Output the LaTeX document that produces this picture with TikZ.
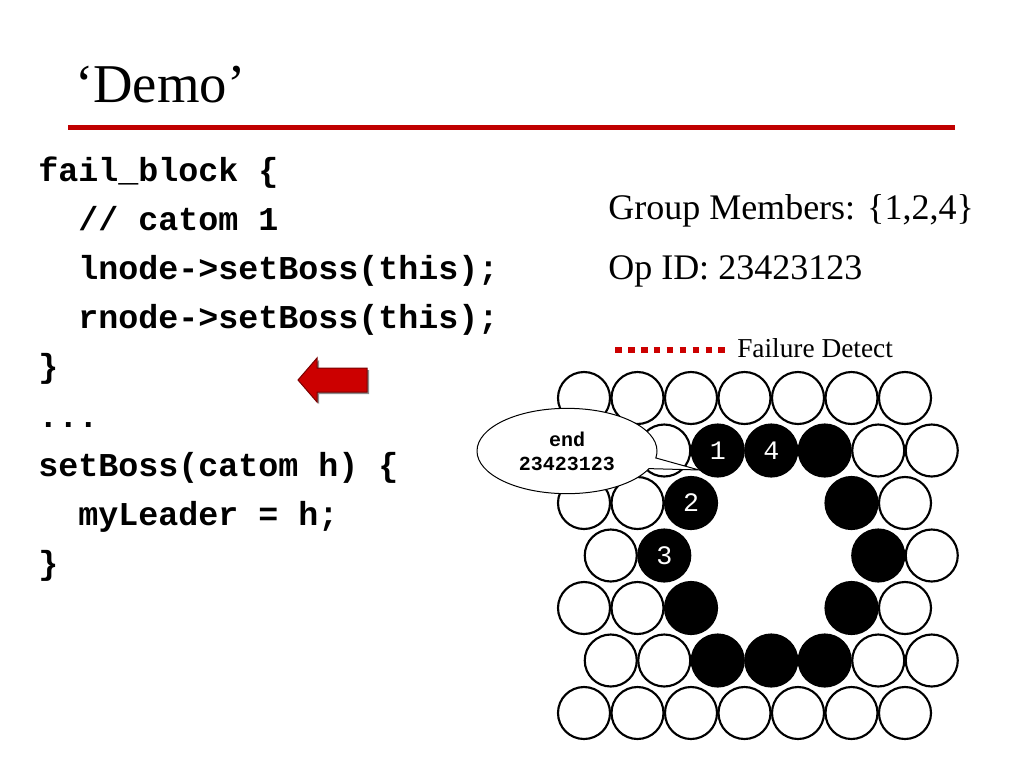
\documentclass[tikz,border=0pt]{standalone}
\usepackage{fontspec}
\setmainfont{Liberation Serif}
\newfontfamily\codefont{Liberation Mono}
\usetikzlibrary{shapes.callouts}
\definecolor{slidered}{HTML}{C00000}
\definecolor{arrowred}{HTML}{CC0000}
\definecolor{arrowedge}{HTML}{7A0000}
\begin{document}
\begin{tikzpicture}[x=0.75pt,y=-0.75pt,
  codeline/.style={anchor=base west, inner sep=0pt, font=\codefont\bfseries\fontsize{25}{30}\selectfont},
  bodytext/.style={anchor=base west, inner sep=0pt, font=\fontsize{27}{32}\selectfont},
  legendtext/.style={anchor=base west, inner sep=0pt, font=\fontsize{20.5}{24}\selectfont},
  catom/.style={circle, draw=black, line width=1.6pt, minimum size=39pt, inner sep=0pt, fill=white},
  dead/.style={catom, fill=black, text=white, font=\codefont\fontsize{20}{24}\selectfont},
  bubble/.style={ellipse callout, draw=black, line width=0.75pt, fill=white, minimum width=135pt, minimum height=64pt, inner sep=0pt, align=center, font=\codefont\bfseries\fontsize{15}{18}\selectfont},
]
\useasboundingbox (0,0) rectangle (1024,768);

% title
\node[anchor=base west, inner sep=0pt, font=\fontsize{41}{48}\selectfont] (title) at (75,102) {‘Demo’};
\coordinate (ruleL) at (68,127.5);
\coordinate (ruleR) at (955,127.5);
\draw[slidered, line width=4.2pt] (ruleL) -- (ruleR);

% code
\node[codeline] (l1) at (38,181) {fail\_block \{};
\node[codeline] (l2) at (78,230.2) {// catom 1};
\node[codeline] (l3) at (78,279.4) {lnode->setBoss(this);};
\node[codeline] (l4) at (78,328.6) {rnode->setBoss(this);};
\node[codeline] (l5) at (38,377.8) {\}};
\node[codeline] (l6) at (38,427) {...};
\node[codeline] (l7) at (38,476.2) {setBoss(catom h) \{};
\node[codeline] (l8) at (78,525.4) {myLeader = h;};
\node[codeline] (l9) at (38,574.6) {\}};

% red arrow
\fill[black!45, xshift=1.5pt, yshift=-1.5pt] (298,380) -- (317,358) -- (317,368) -- (367,368) -- (367,392) -- (317,392) -- (317,402) -- cycle;
\filldraw[fill=arrowred, draw=arrowedge, line width=0.75pt] (298,380) -- (317,358) -- (317,368) -- (367,368) -- (367,392) -- (317,392) -- (317,402) -- cycle;

% right texts
\node[bodytext] (members) at (608,219) {Group Members: \{1,2,4\}};
\node[bodytext] (opid) at (608,279) {Op ID: 23423123};

% legend
\coordinate (legA) at (615,350);
\coordinate (legB) at (726,350);
\draw[arrowred, line width=4.8pt, dash pattern=on 5pt off 4.7pt] (legA) -- (legB);
\node[legendtext] (legend) at (737,357) {Failure Detect};

% catoms: rows 1..7, A rows x=584+53.5k, B rows x=610.75+53.5k
\foreach \k in {0,...,6} {
  \node[catom] (c1\k) at ({584+53.5*\k},398) {};
  \node[catom] (c7\k) at ({584+53.5*\k},713) {};
}
% row 2 (B)
\foreach \k in {0,1,5,6} \node[catom] (c2\k) at ({610.75+53.5*\k},450.5) {};
\node[dead] (c22) at ({610.75+53.5*2},450.5) {1};
\node[dead] (c23) at ({610.75+53.5*3},450.5) {4};
\node[dead] (c24) at ({610.75+53.5*4},450.5) {};
% row 3 (A)
\foreach \k in {0,1,6} \node[catom] (c3\k) at ({584+53.5*\k},503) {};
\node[dead] (c32) at ({584+53.5*2},503) {2};
\node[dead] (c35) at ({584+53.5*5},503) {};
% row 4 (B)
\foreach \k in {0,6} \node[catom] (c4\k) at ({610.75+53.5*\k},555.5) {};
\node[dead] (c41) at ({610.75+53.5*1},555.5) {3};
\node[dead] (c45) at ({610.75+53.5*5},555.5) {};
% row 5 (A)
\foreach \k in {0,1,6} \node[catom] (c5\k) at ({584+53.5*\k},608) {};
\node[dead] (c52) at ({584+53.5*2},608) {};
\node[dead] (c55) at ({584+53.5*5},608) {};
% row 6 (B)
\foreach \k in {0,1,5,6} \node[catom] (c6\k) at ({610.75+53.5*\k},660.5) {};
\foreach \k in {2,3,4} \node[dead] (c6\k) at ({610.75+53.5*\k},660.5) {};

% callout
\node[bubble, callout absolute pointer={(c22.226)}] (msg) at (567,451) {end\\23423123};
\end{tikzpicture}
\end{document}
